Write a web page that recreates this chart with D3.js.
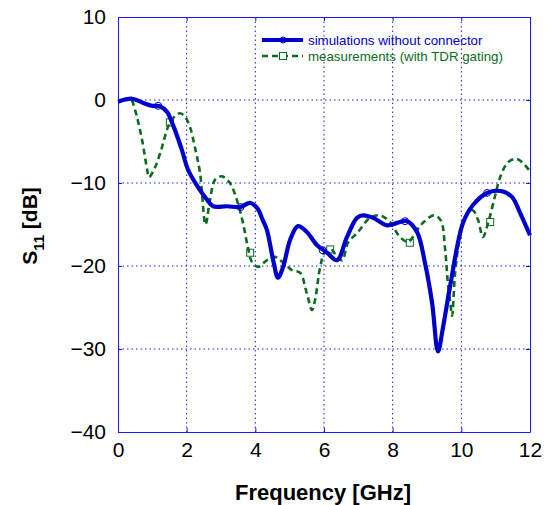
<!DOCTYPE html>
<html>
<head>
<meta charset="utf-8">
<script src="https://cdnjs.cloudflare.com/ajax/libs/d3/7.8.5/d3.min.js"></script>
<style>
  body { margin: 0; background: #fff; }
  text { font-family: "Liberation Sans", Arial, sans-serif; }
</style>
</head>
<body>
<div id="chart1"></div>
<script>

// simulated S11 (blue)
var simFreq = [0, 0.41, 0.73, 1.0, 1.22, 1.43, 1.6, 1.86, 2.04, 2.33, 2.59, 2.77, 3.18, 3.55, 3.85, 4.05,
  4.22, 4.34, 4.52, 4.66, 4.81, 5.01, 5.24, 5.5, 5.8, 6.09, 6.38, 6.67, 6.96, 7.14, 7.43, 7.84, 8.13,
  8.42, 8.71, 8.94, 9.15, 9.32, 9.47, 9.67, 10.05, 10.34, 10.75, 11.19, 11.48, 11.71, 12.0];
var simDb = [-0.2, 0.15, -0.35, -0.7, -0.75, -1.45, -3.0, -6.0, -8.4, -10.5, -12.0, -12.8, -12.8, -12.9, -12.4, -13.0,
  -14.5, -15.7, -19.3, -21.4, -20.1, -16.9, -15.2, -15.9, -17.5, -18.4, -19.3, -16.5, -14.2, -13.9, -14.2, -15.1, -14.8,
  -14.6, -15.9, -19.6, -24.5, -30.3, -27.3, -22.5, -14.8, -12.65, -11.2, -11.0, -11.7, -13.6, -16.3];

// measured S11 (green)
var measFreq = [0.41, 0.55, 0.7, 0.85, 0.9, 1.08, 1.28, 1.45, 1.6, 1.8, 1.95, 2.1, 2.24, 2.39, 2.55, 2.68, 2.83,
  3.03, 3.26, 3.46, 3.64, 3.78, 3.9, 4.08, 4.34, 4.57, 4.81, 5.07, 5.3, 5.5, 5.65, 5.74, 5.89, 6.03, 6.24,
  6.38, 6.53, 6.7, 6.99, 7.34, 7.63, 7.92, 8.21, 8.45, 8.71, 8.88, 9.2, 9.4, 9.53, 9.6, 9.68, 9.73, 9.82,
  9.96, 10.17, 10.34, 10.49, 10.63, 10.78, 10.98, 11.13, 11.36, 11.6, 11.77, 12.0];
var measDb = [0.0, -2.0, -4.8, -8.4, -9.3, -8.1, -5.7, -3.3, -2.2, -1.6, -2.0, -3.3, -5.7, -8.8, -15.0, -12.0, -9.6,
  -9.2, -10.0, -12.0, -14.8, -17.7, -19.5, -20.1, -19.3, -18.9, -19.6, -20.5, -20.8, -23.3, -25.3, -24.1, -20.1, -18.3, -18.1,
  -19.0, -19.3, -17.2, -15.9, -14.2, -13.9, -14.7, -16.5, -17.1, -15.7, -14.8, -13.9, -14.5, -18.1, -21.7, -24.5, -26.0, -20.8,
  -16.5, -13.7, -13.3, -14.5, -16.5, -14.8, -11.6, -9.3, -7.5, -7.1, -7.5, -8.6];

// marker positions
var simMarkF = [1.17, 3.57, 5.96, 8.36, 10.75];
var simMarkDb = [-0.7, -12.9, -18.1, -14.6, -11.2];
var measMarkF = [1.51, 3.85, 6.18, 8.5, 10.84];
var measMarkDb = [-2.7, -18.4, -18.0, -17.2, -14.7];

var xTicks = [0, 2, 4, 6, 8, 10, 12];
var yTicks = [10, 0, -10, -20, -30, -40];

var legendLabels = ["simulations without connector", "measurements (with TDR gating)"];

var blue = "#0000cc";
var green = "#0b6b1e";
var axisBlue = "#1a1aee";

var margin = { left: 118, right: 15, top: 17, bottom: 73 };
var width = 545 - margin.left - margin.right;
var height = 505 - margin.top - margin.bottom;

var svg = d3.select("#chart1")
  .append("svg")
    .attr("width", 545)
    .attr("height", 505);

var g = svg.append("g")
  .attr("transform", "translate(" + margin.left + "," + margin.top + ")");

var xScale = d3.scaleLinear().domain([0, 12]).range([0, width]);
var yScale = d3.scaleLinear().domain([-40, 10]).range([height, 0]);

// grid
g.selectAll(".vgrid")
  .data(xTicks.slice(1, -1)).enter()
  .append("line")
  .attr("x1", function(d){ return xScale(d) })
  .attr("x2", function(d){ return xScale(d) })
  .attr("y1", 0).attr("y2", height)
  .attr("stroke", axisBlue).attr("stroke-width", 1)
  .attr("stroke-dasharray", "1.5,3");

g.selectAll(".hgrid")
  .data(yTicks.slice(1, -1)).enter()
  .append("line")
  .attr("y1", function(d){ return yScale(d) })
  .attr("y2", function(d){ return yScale(d) })
  .attr("x1", 0).attr("x2", width)
  .attr("stroke", axisBlue).attr("stroke-width", 1)
  .attr("stroke-dasharray", "1.5,3");

// axes
var xAxis = d3.axisBottom(xScale).tickValues(xTicks).tickSizeInner(-4).tickSizeOuter(0).tickPadding(10);
var yAxis = d3.axisLeft(yScale).tickValues(yTicks).tickSizeInner(-4).tickSizeOuter(0).tickPadding(12);
var xAxisTop = d3.axisTop(xScale).tickValues(xTicks).tickSizeInner(-4).tickSizeOuter(0).tickFormat("");
var yAxisRight = d3.axisRight(yScale).tickValues(yTicks).tickSizeInner(-4).tickSizeOuter(0).tickFormat("");

var gx = g.append("g").attr("transform", "translate(0," + height + ")").call(xAxis);
var gy = g.append("g").call(yAxis);
var gxt = g.append("g").call(xAxisTop);
var gyr = g.append("g").attr("transform", "translate(" + width + ",0)").call(yAxisRight);

[gx, gy, gxt, gyr].forEach(function(a){
  a.select(".domain").attr("stroke", axisBlue);
  a.selectAll(".tick line").attr("stroke", axisBlue);
  a.selectAll("text")
    .attr("fill", "#000")
    .style("font-size", "21px");
});

// lines
var line = d3.line()
  .x(function(d){ return xScale(d[0]) })
  .y(function(d){ return yScale(d[1]) })
  .curve(d3.curveCatmullRom.alpha(0.5));

var measData = measFreq.map(function(f, i){ return [f, measDb[i]] });
var simData = simFreq.map(function(f, i){ return [f, simDb[i]] });

g.append("path")
  .datum(measData)
  .attr("d", line)
  .attr("fill", "none")
  .attr("stroke", green)
  .attr("stroke-width", 2.6)
  .attr("stroke-dasharray", "6,4");

g.selectAll(".msq")
  .data(measMarkF).enter()
  .append("rect")
  .attr("class", "msq")
  .attr("x", function(d){ return xScale(d) - 3.5 })
  .attr("y", function(d, i){ return yScale(measMarkDb[i]) - 3.5 })
  .attr("width", 7).attr("height", 7)
  .attr("fill", "none")
  .attr("stroke", green)
  .attr("stroke-width", 1);

g.append("path")
  .datum(simData)
  .attr("d", line)
  .attr("fill", "none")
  .attr("stroke", blue)
  .attr("stroke-width", 4.2)
  .attr("stroke-linejoin", "round");

g.selectAll(".scirc")
  .data(simMarkF).enter()
  .append("circle")
  .attr("cx", function(d){ return xScale(d) })
  .attr("cy", function(d, i){ return yScale(simMarkDb[i]) })
  .attr("r", 3.5)
  .attr("fill", "none")
  .attr("stroke", blue)
  .attr("stroke-width", 1);

// legend
var leg = svg.append("g").attr("transform", "translate(262,40)");

leg.append("line")
  .attr("x1", 0).attr("x2", 41).attr("y1", 0).attr("y2", 0)
  .attr("stroke", blue).attr("stroke-width", 4.2);
leg.append("circle")
  .attr("cx", 21).attr("cy", 0).attr("r", 3)
  .attr("fill", "none").attr("stroke", blue).attr("stroke-width", 1);
leg.append("text")
  .attr("x", 46).attr("y", 5)
  .attr("fill", blue)
  .style("font-size", "13.3px")
  .text(legendLabels[0]);

leg.append("line")
  .attr("x1", 0).attr("x2", 41).attr("y1", 16).attr("y2", 16)
  .attr("stroke", green).attr("stroke-width", 2.6)
  .attr("stroke-dasharray", "6,4");
leg.append("rect")
  .attr("x", 17.5).attr("y", 12.5).attr("width", 7).attr("height", 7)
  .attr("fill", "#fff").attr("stroke", green).attr("stroke-width", 1);
leg.append("text")
  .attr("x", 46).attr("y", 21)
  .attr("fill", green)
  .style("font-size", "13.3px")
  .text(legendLabels[1]);

// axis titles
svg.append("text")
  .attr("x", 323)
  .attr("y", 500)
  .attr("text-anchor", "middle")
  .style("font-size", "22px")
  .style("font-weight", "bold")
  .text("Frequency [GHz]");

var yl = svg.append("text")
  .attr("transform", "translate(37,226) rotate(-90)")
  .attr("text-anchor", "middle")
  .style("font-size", "21px")
  .style("font-weight", "bold");
yl.append("tspan").text("S");
yl.append("tspan").attr("dy", 7).style("font-size", "15px").text("11");
yl.append("tspan").attr("dy", -7).text(" [dB]");

</script>
</body>
</html>
